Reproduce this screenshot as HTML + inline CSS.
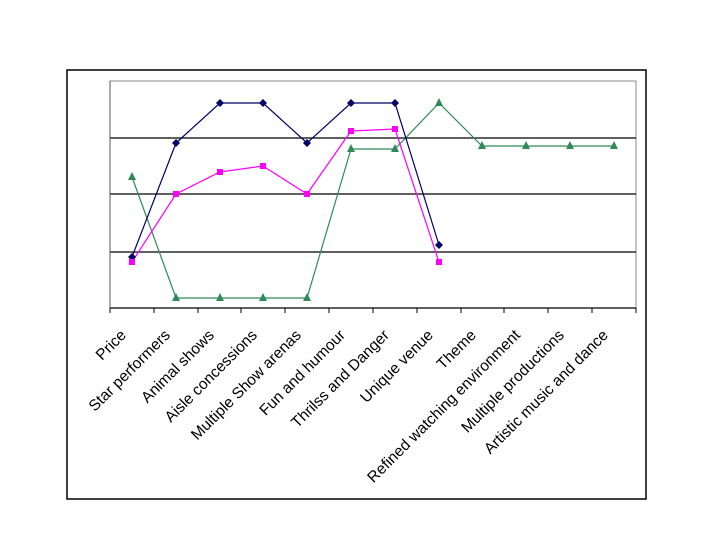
<!DOCTYPE html>
<html><head><meta charset="utf-8"><style>html,body{margin:0;padding:0;background:#fff}svg{display:block}</style></head>
<body>
<svg width="720" height="540" xmlns="http://www.w3.org/2000/svg" font-family="Liberation Sans, Arial, sans-serif">
<rect x="67" y="70" width="579" height="429" fill="#fff" stroke="#000" stroke-width="1.5"/>
<rect x="110" y="81" width="526" height="227" fill="#fff" stroke="#888" stroke-width="1"/>
<g stroke="#000" stroke-width="1.2">
<line x1="110" y1="138" x2="636" y2="138"/>
<line x1="110" y1="194" x2="636" y2="194"/>
<line x1="110" y1="252" x2="636" y2="252"/>
<line x1="110" y1="308" x2="636" y2="308"/>
</g>
<line x1="110" y1="81" x2="110" y2="308" stroke="#555" stroke-width="1"/>
<g stroke="#000" stroke-width="1">
<line x1="110" y1="308" x2="110" y2="313"/><line x1="154" y1="308" x2="154" y2="313"/><line x1="198" y1="308" x2="198" y2="313"/><line x1="241" y1="308" x2="241" y2="313"/><line x1="285" y1="308" x2="285" y2="313"/><line x1="329" y1="308" x2="329" y2="313"/><line x1="373" y1="308" x2="373" y2="313"/><line x1="417" y1="308" x2="417" y2="313"/><line x1="461" y1="308" x2="461" y2="313"/><line x1="504" y1="308" x2="504" y2="313"/><line x1="548" y1="308" x2="548" y2="313"/><line x1="592" y1="308" x2="592" y2="313"/><line x1="636" y1="308" x2="636" y2="313"/>
</g>
<polyline fill="none" stroke="#2e8b57" stroke-width="1.2" points="132,177 176,298 220,298 263,298 307,298 351,149 395,149 439,103 482,146 526,146 570,146 614,146"/>
<polyline fill="none" stroke="#000066" stroke-width="1.2" points="132,257 176,143 220,103 263,103 307,143 351,103 395,103 439,245"/>
<polyline fill="none" stroke="#ff00ff" stroke-width="1.2" points="132,262 176,194 220,172 263,166 307,194 351,131 395,129 439,262"/>
<g fill="#2e8b57">
<polygon points="132,172 136,180 128,180"/><polygon points="176,293 180,301 172,301"/><polygon points="220,293 224,301 216,301"/><polygon points="263,293 267,301 259,301"/><polygon points="307,293 311,301 303,301"/><polygon points="351,144 355,152 347,152"/><polygon points="395,144 399,152 391,152"/><polygon points="439,98 443,106 435,106"/><polygon points="482,141 486,149 478,149"/><polygon points="526,141 530,149 522,149"/><polygon points="570,141 574,149 566,149"/><polygon points="614,141 618,149 610,149"/>
</g>
<g fill="#000066">
<polygon points="132,253 136,257 132,261 128,257"/><polygon points="176,139 180,143 176,147 172,143"/><polygon points="220,99 224,103 220,107 216,103"/><polygon points="263,99 267,103 263,107 259,103"/><polygon points="307,139 311,143 307,147 303,143"/><polygon points="351,99 355,103 351,107 347,103"/><polygon points="395,99 399,103 395,107 391,103"/><polygon points="439,241 443,245 439,249 435,245"/>
</g>
<g fill="#ff00ff">
<rect x="129" y="259" width="6" height="6"/><rect x="173" y="191" width="6" height="6"/><rect x="217" y="169" width="6" height="6"/><rect x="260" y="163" width="6" height="6"/><rect x="304" y="191" width="6" height="6"/><rect x="348" y="128" width="6" height="6"/><rect x="392" y="126" width="6" height="6"/><rect x="436" y="259" width="6" height="6"/>
</g>
<g font-size="15.5" fill="#000" text-anchor="end">
<text transform="translate(127,336) rotate(-45)">Price</text>
<text transform="translate(171,336) rotate(-45)">Star performers</text>
<text transform="translate(215,336) rotate(-45)">Animal shows</text>
<text transform="translate(258,336) rotate(-45)">Aisle concessions</text>
<text transform="translate(302,336) rotate(-45)">Multiple Show arenas</text>
<text transform="translate(346,336) rotate(-45)">Fun and humour</text>
<text transform="translate(390,336) rotate(-45)">Thrilss and Danger</text>
<text transform="translate(434,336) rotate(-45)">Unique venue</text>
<text transform="translate(477,336) rotate(-45)">Theme</text>
<text transform="translate(521,336) rotate(-45)">Refined watching environment</text>
<text transform="translate(565,336) rotate(-45)">Multiple productions</text>
<text transform="translate(609,336) rotate(-45)">Artistic music and dance</text>
</g>
</svg>
</body></html>
